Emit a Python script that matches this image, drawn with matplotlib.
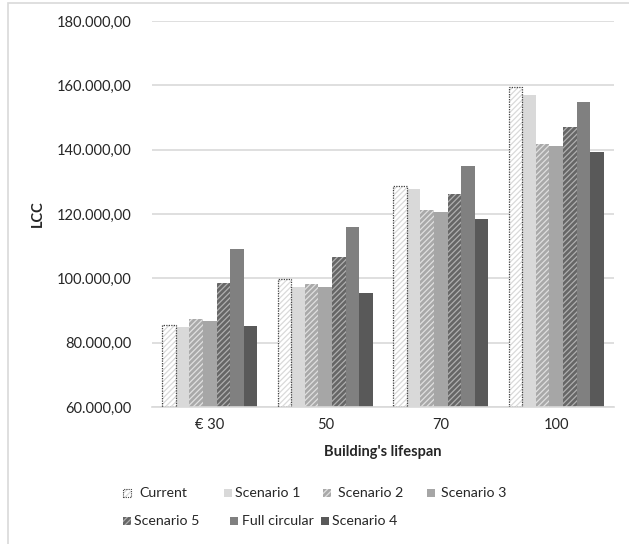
import matplotlib
matplotlib.use("Agg")
import matplotlib.pyplot as plt
from matplotlib.patches import Rectangle
import numpy as np

plt.rcParams['font.family'] = ['Lato', 'DejaVu Sans']
plt.rcParams['hatch.linewidth'] = 0.9

lifespans = ["€ 30", "50", "70", "100"]
series_names = ["Current", "Scenario 1", "Scenario 2", "Scenario 3",
                "Scenario 5", "Full circular", "Scenario 4"]

current = [85400, 99700, 128700, 159500]
scenario_1 = [84800, 97400, 127700, 157100]
scenario_2 = [87400, 98300, 121100, 141700]
scenario_3 = [86800, 97300, 120500, 141200]
scenario_5 = [98600, 106600, 126100, 147000]
full_circular = [109000, 116100, 134800, 154800]
scenario_4 = [85200, 95300, 118500, 139300]

series_values = [current, scenario_1, scenario_2, scenario_3,
                 scenario_5, full_circular, scenario_4]

y_ticks = [60000, 80000, 100000, 120000, 140000, 160000, 180000]

# fill, hatch, hatch colour, outline colour, outline style
styles = [
    dict(face="white", hatch="//////", hcolor="#d9d9d9", edge="#404040", ls=(0, (1, 1))),
    dict(face="#d9d9d9", hatch=None, hcolor=None, edge=None, ls=None),
    dict(face="#a9a9a9", hatch="//////", hcolor="#e0e0e0", edge=None, ls=None),
    dict(face="#a6a6a6", hatch=None, hcolor=None, edge=None, ls=None),
    dict(face="#666666", hatch="//////", hcolor="#b0b0b0", edge=None, ls=None),
    dict(face="#808080", hatch=None, hcolor=None, edge=None, ls=None),
    dict(face="#595959", hatch=None, hcolor=None, edge=None, ls=None),
]

TEXT = "#262626"
FS = 10.5
LEG_FS = 10.2


def fmt(v):
    s = f"{v:,.2f}"
    return s.replace(",", "X").replace(".", ",").replace("X", ".")


fig = plt.figure(figsize=(6.29, 5.44), dpi=100)
ax = fig.add_axes([152 / 629, 1 - 407 / 544, (614 - 152) / 629, (407 - 21) / 544])

x = np.arange(len(lifespans))
n = len(series_values)
width = 0.1175
for i, (vals, st) in enumerate(zip(series_values, styles)):
    pos = x + (i - (n - 1) / 2) * width
    heights = np.array(vals) - y_ticks[0]
    if st["hatch"]:
        ax.bar(pos, heights, width, bottom=y_ticks[0], color=st["face"],
               hatch=st["hatch"], edgecolor=st["hcolor"], linewidth=0, zorder=2)
    else:
        ax.bar(pos, heights, width, bottom=y_ticks[0], color=st["face"],
               linewidth=0, zorder=2)
    if st["edge"]:
        ax.bar(pos, heights, width, bottom=y_ticks[0], fill=False,
               edgecolor=st["edge"], linewidth=0.9, linestyle=st["ls"], zorder=3)

ax.set_ylim(y_ticks[0], y_ticks[-1])
ax.set_xlim(-0.5, len(lifespans) - 0.5)
ax.set_yticks(y_ticks)
ax.set_yticklabels([fmt(v) for v in y_ticks], fontsize=FS, color=TEXT)
ax.set_xticks(x)
ax.set_xticklabels(lifespans, fontsize=FS, color=TEXT)
ax.tick_params(axis="y", length=0, pad=15)
ax.tick_params(axis="x", length=0, pad=8)
ax.grid(axis="y", color="#d9d9d9", linewidth=1.2, zorder=0)
ax.set_axisbelow(True)
for s in ["top", "right", "left"]:
    ax.spines[s].set_visible(False)
ax.spines["bottom"].set_color("#d9d9d9")
ax.spines["bottom"].set_linewidth(1.2)

ax.set_ylabel("LCC", fontsize=FS, fontweight="bold", color=TEXT, labelpad=8)
ax.set_xlabel("Building's lifespan", fontsize=FS, fontweight="bold", color=TEXT, labelpad=9)

# chart frame (left and top edges)
fig.add_artist(Rectangle((8 / 629, -0.1), 1.2, 1 - 3 / 544 + 0.1,
                         transform=fig.transFigure, fill=False,
                         edgecolor="#d9d9d9", linewidth=1.2))

# legend, two rows
legend_layout = [
    (0, 123, 139), (1, 224, 235), (2, 323, 338), (3, 427, 441),
    (4, 123, 134), (5, 230, 242), (6, 321, 332),
]
row_y = [493, 521]
for k, (idx, icon_x, text_x) in enumerate(legend_layout):
    yc = row_y[0] if k < 4 else row_y[1]
    st = styles[idx]
    sz = 8
    rect_kw = dict(transform=None, zorder=5)
    x0, y0 = icon_x, 544 - yc - sz / 2
    if st["hatch"]:
        r = Rectangle((x0, y0), sz, sz, facecolor=st["face"], hatch="//////",
                      edgecolor=st["hcolor"], linewidth=0, **rect_kw)
    else:
        r = Rectangle((x0, y0), sz, sz, facecolor=st["face"], linewidth=0, **rect_kw)
    fig.add_artist(r)
    if st["edge"]:
        fig.add_artist(Rectangle((x0, y0), sz, sz, fill=False, edgecolor=st["edge"],
                                 linewidth=0.8, linestyle=st["ls"], **rect_kw))
    fig.text(text_x / 629, 1 - yc / 544, series_names[idx], fontsize=LEG_FS,
             color=TEXT, va="center", ha="left")

fig.savefig("out.png", dpi=100)
